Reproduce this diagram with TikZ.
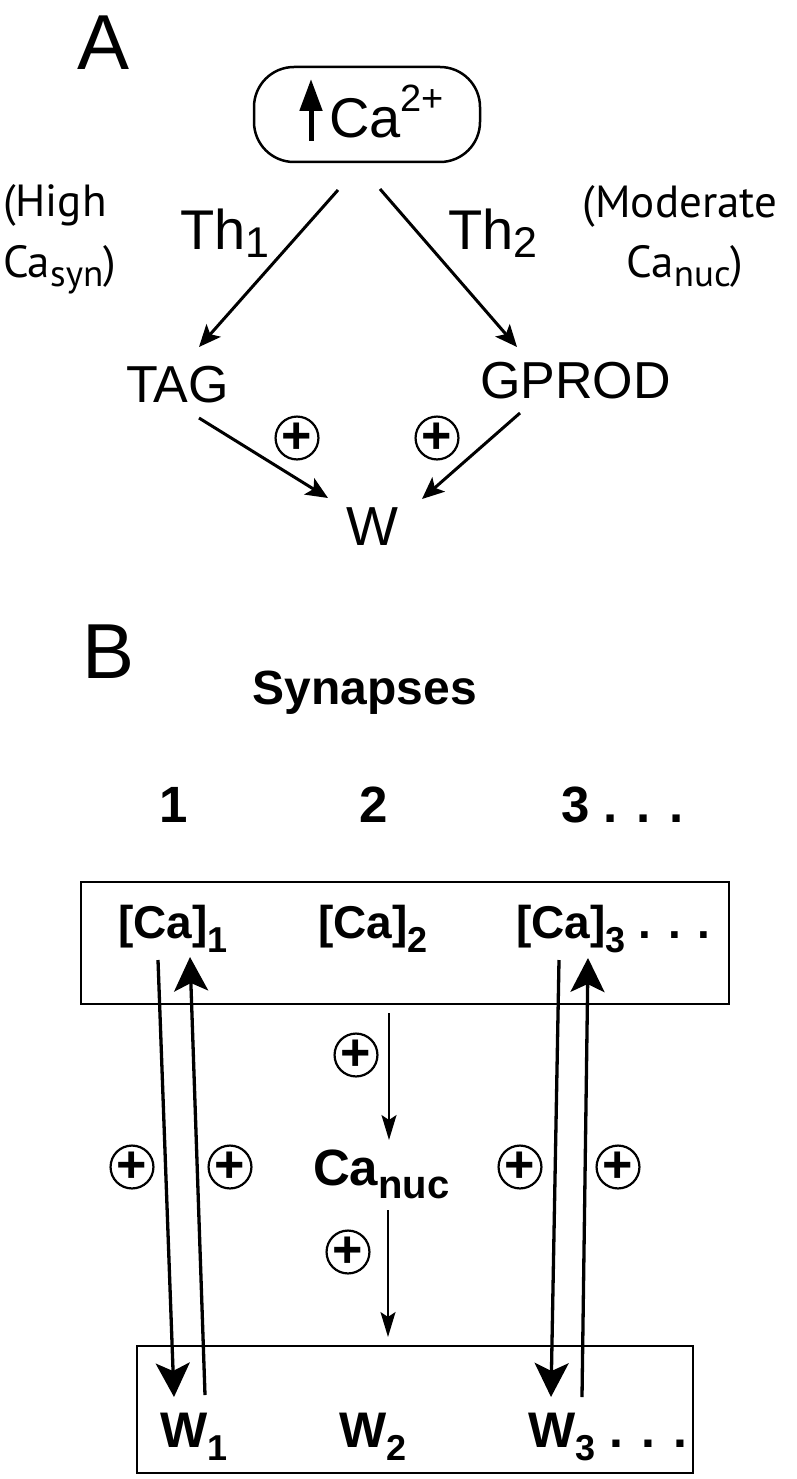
\documentclass[tikz,border=0pt]{standalone}
\usepackage{fontspec}
\setmainfont{Liberation Sans}
\newfontfamily\ptsans{PT Sans}
\usetikzlibrary{arrows.meta}
\newcommand\myfs[1]{\fontsize{#1}{#1}\selectfont}
\newcommand\mysub[3]{\raisebox{-#1pt}{\myfs{#2}#3}}
\begin{document}
\begin{tikzpicture}[x=1pt,y=-1pt,
  txt/.style={inner sep=0pt, outer sep=0pt},
  arrA/.style={line width=3pt, -{Stealth[length=22pt,width=19pt,inset=5pt]}},
  arrB/.style={line width=3.3pt, -{Stealth[length=34pt,width=34pt,inset=8pt]}},
  arrC/.style={line width=2pt, -{Stealth[length=25pt,width=15pt,inset=5pt]}},
  plusc/.style={circle, draw, line width=2.2pt, minimum size=40pt, inner sep=0pt, font=\myfs{52}\bfseries},
  boxB/.style={draw, line width=2.5pt, inner sep=0pt}]
\useasboundingbox (0,0) rectangle (797,1479);

% ---------- Part A ----------
\node[txt, anchor=base west] (lblA) at (77,70) {\myfs{78}A};
\node[draw, line width=2.5pt, rounded corners=40pt, minimum width=226pt, minimum height=95pt, inner sep=0pt] (cabox) at (367,114.5) {};
\coordinate (upS) at (311,141);
\coordinate (upE) at (311,79);
\draw[line width=5pt, -{Triangle[length=32pt,width=22pt]}] (upS) -- (upE);
\node[txt, anchor=base west] (catext) at (329,138) {\myfs{56}Ca\raisebox{26pt}{\myfs{38}2+}};

\node[txt, anchor=base west] (high1) at (3,217) {\ptsans\myfs{45}(High};
\node[txt, anchor=base west] (high2) at (3,277) {\ptsans\myfs{45}Ca\mysub{9}{37}{syn})};
\node[txt, anchor=base] (mod1) at (680,218) {\ptsans\myfs{45}(Moderate};
\node[txt, anchor=base] (mod2) at (685,277) {\ptsans\myfs{45}Ca\mysub{9}{37}{nuc})};

\node[txt, anchor=base west] (th1) at (180,250) {\myfs{56}Th\mysub{8}{43}{1}};
\node[txt, anchor=base west] (th2) at (448,250) {\myfs{56}Th\mysub{8}{43}{2}};

\node[txt, anchor=base west] (tag) at (126,402) {\myfs{52}TAG};
\node[txt, anchor=base west] (gprod) at (480,398) {\myfs{52}GPROD};
\node[txt, anchor=base] (w) at (372,545) {\myfs{55}W};

\node[plusc] (pA1) at (297,438) {+};
\node[plusc] (pA2) at (437,438) {+};

\coordinate (a1s) at (338,190); \coordinate (a1e) at (199,347);
\coordinate (a2s) at (380,189); \coordinate (a2e) at (517,347);
\coordinate (a3s) at (199,418); \coordinate (a3e) at (328,498);
\coordinate (a4s) at (520,413); \coordinate (a4e) at (422,499);
\draw[arrA] (a1s) -- (a1e);
\draw[arrA] (a2s) -- (a2e);
\draw[arrA] (a3s) -- (a3e);
\draw[arrA] (a4s) -- (a4e);

% ---------- Part B ----------
\node[txt, anchor=base west] (lblB) at (82,678) {\myfs{78}B};
\node[txt, anchor=base] (syn) at (365,704) {\myfs{48}\bfseries Synapses};
\node[txt, anchor=base] (n1) at (174,822) {\myfs{51}\bfseries 1};
\node[txt, anchor=base] (n2) at (374,822) {\myfs{51}\bfseries 2};
\node[txt, anchor=base west] (n3) at (561,822) {\myfs{51}\bfseries 3 . . .};

\node[boxB, minimum width=648pt, minimum height=122pt] (topbox) at (405,943) {};
\node[boxB, minimum width=556pt, minimum height=127pt] (botbox) at (415,1409.5) {};

\node[txt, anchor=base west] (ca1) at (118,938) {\myfs{46}\bfseries [Ca]\mysub{14}{36}{1}};
\node[txt, anchor=base west] (ca2) at (318,938) {\myfs{46}\bfseries [Ca]\mysub{14}{36}{2}};
\node[txt, anchor=base west] (ca3) at (516,938) {\myfs{46}\bfseries [Ca]\mysub{14}{36}{3} . . .};

\node[txt, anchor=base west] (canuc) at (313,1185) {\myfs{51}\bfseries Ca\mysub{13}{40}{nuc}};

\node[txt, anchor=base west] (w1) at (160,1447) {\myfs{50}\bfseries W\mysub{13}{36}{1}};
\node[txt, anchor=base west] (w2) at (339,1447) {\myfs{50}\bfseries W\mysub{13}{36}{2}};
\node[txt, anchor=base west] (w3) at (528,1447) {\myfs{50}\bfseries W\mysub{13}{36}{3} . . .};

\node[plusc] (pB1) at (356,1055) {+};
\node[plusc] (pB2) at (132,1167) {+};
\node[plusc] (pB3) at (230,1167) {+};
\node[plusc] (pB4) at (520,1167) {+};
\node[plusc] (pB5) at (618,1167) {+};
\node[plusc] (pB6) at (348,1252) {+};

\coordinate (d1s) at (158,960); \coordinate (d1e) at (174,1397);
\coordinate (u1s) at (205,1395); \coordinate (u1e) at (190,957);
\coordinate (d3s) at (559,960); \coordinate (d3e) at (551,1397);
\coordinate (u3s) at (582,1397); \coordinate (u3e) at (588,958);
\coordinate (c1s) at (389,1013); \coordinate (c1e) at (389,1140);
\coordinate (c2s) at (388,1210); \coordinate (c2e) at (388,1337);
\draw[arrB] (d1s) -- (d1e);
\draw[arrB] (u1s) -- (u1e);
\draw[arrB] (d3s) -- (d3e);
\draw[arrB] (u3s) -- (u3e);
\draw[arrC] (c1s) -- (c1e);
\draw[arrC] (c2s) -- (c2e);
\end{tikzpicture}
\end{document}
